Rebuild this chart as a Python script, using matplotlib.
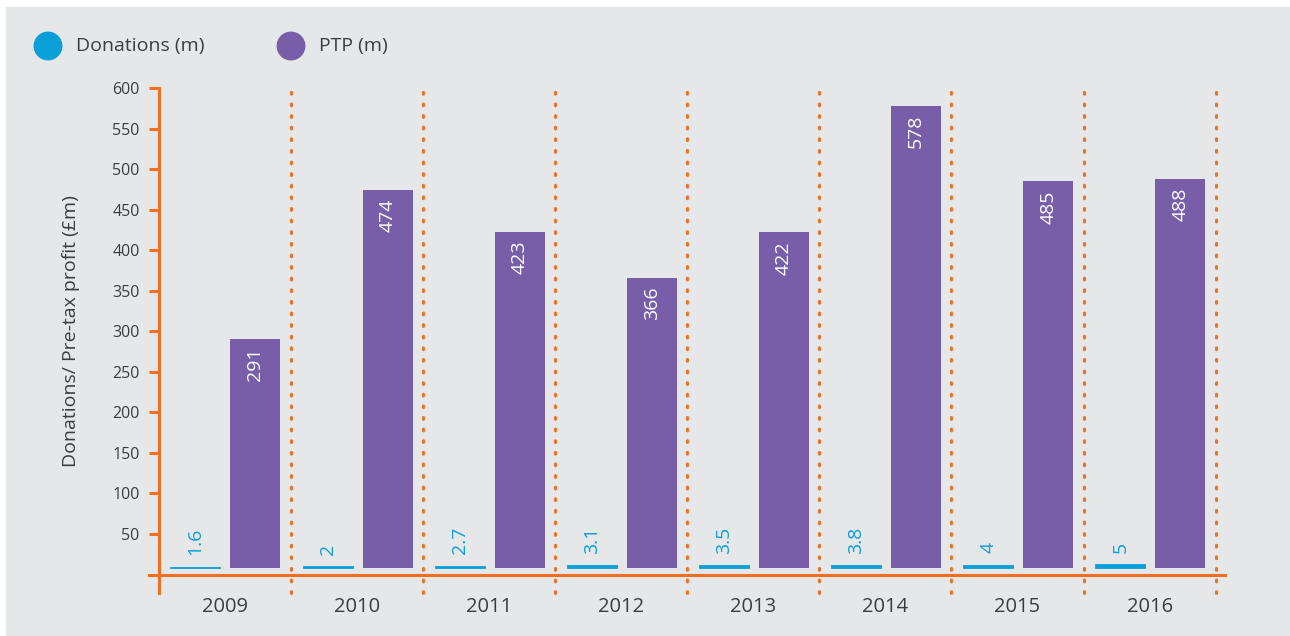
import numpy as np
import matplotlib
matplotlib.use('Agg')
import matplotlib.pyplot as plt
from matplotlib.patches import Rectangle, Ellipse

# data
years = ['2009', '2010', '2011', '2012', '2013', '2014', '2015', '2016']
donations = [1.6, 2, 2.7, 3.1, 3.5, 3.8, 4, 5]
donation_labels = ['1.6', '2', '2.7', '3.1', '3.5', '3.8', '4', '5']
ptp = [291, 474, 423, 366, 422, 578, 485, 488]
yticks = [50, 100, 150, 200, 250, 300, 350, 400, 450, 500, 550, 600]

BG = '#e6e7e9'
ORANGE = '#ef7022'
BLUE = '#0b9fda'
PURPLE = '#785ea9'
TXT = '#3d3d3d'
base = 8   # bars sit a little above the axis line

plt.rcParams['font.family'] = ['Open Sans', 'DejaVu Sans']

fig = plt.figure(figsize=(12.9, 6.36), dpi=100)
fig.patch.set_facecolor('white')
fig.patches.append(Rectangle((6 / 1290, 0), 1 - 6 / 1290, 1 - 7 / 636,
                             transform=fig.transFigure, color=BG, zorder=-10))

ax = fig.add_axes([158.5 / 1290, 1 - 574.5 / 636, 1066.5 / 1290, 486.5 / 636])
ax.set_facecolor('none')
ax.set_xlim(0, 8.07)
ax.set_ylim(0, 600)
for s in ax.spines.values():
    s.set_visible(False)

x = np.arange(len(years))
# thin blue edge keeps the tiny donation bars visible
ax.bar(x + 0.279, donations, width=0.378, bottom=base, color=BLUE,
       edgecolor=BLUE, linewidth=0.6, zorder=3)
ax.bar(x + 0.733, np.array(ptp) - base, width=0.378, bottom=base, color=PURPLE, zorder=3)

for i in range(len(years)):
    ax.text(x[i] + 0.279, base + donations[i] + 14, donation_labels[i], rotation=90,
            ha='center', va='bottom', color=BLUE, fontsize=14, zorder=4)
    ax.text(x[i] + 0.733, ptp[i] - 11, str(ptp[i]), rotation=90,
            ha='center', va='top', color='white', fontsize=14, zorder=4)
    ax.text(x[i] + 0.5, -40, years[i], ha='center', va='center',
            color=TXT, fontsize=14.5)

# dotted separators
for k in range(1, 9):
    ax.plot([k, k], [-23, 604], color=ORANGE, lw=2.2, ls=(0, (0.6, 3.2)),
            dash_capstyle='round', clip_on=False, zorder=2)

# axis lines
ax.plot([-0.072, 8.07], [0, 0], color=ORANGE, lw=2.2, clip_on=False, zorder=5)
ax.plot([0, 0], [-23, 600], color=ORANGE, lw=2.2, clip_on=False, zorder=5)

ax.set_xticks([])
ax.set_yticks(yticks)
ax.set_yticklabels([str(t) for t in yticks])
ax.tick_params(axis='y', length=7.5, width=2.2, color=ORANGE, labelcolor=TXT,
               labelsize=11.5, pad=6)
ax.set_ylabel('Donations/ Pre-tax profit (£m)', color=TXT, fontsize=14)
ax.yaxis.set_label_coords(-78 / 1066.5, 0.5)

# legend
fig.patches.append(Ellipse((48 / 1290, 1 - 46 / 636), 27.5 / 1290, 27.5 / 636,
                           transform=fig.transFigure, color=BLUE, zorder=3))
fig.patches.append(Ellipse((291 / 1290, 1 - 46 / 636), 27.5 / 1290, 27.5 / 636,
                           transform=fig.transFigure, color=PURPLE, zorder=3))
fig.text(76 / 1290, 1 - 46 / 636, 'Donations (m)', ha='left', va='center',
         color=TXT, fontsize=14)
fig.text(319 / 1290, 1 - 46 / 636, 'PTP (m)', ha='left', va='center',
         color=TXT, fontsize=14)

fig.savefig('out.png', dpi=100, facecolor=fig.get_facecolor())
